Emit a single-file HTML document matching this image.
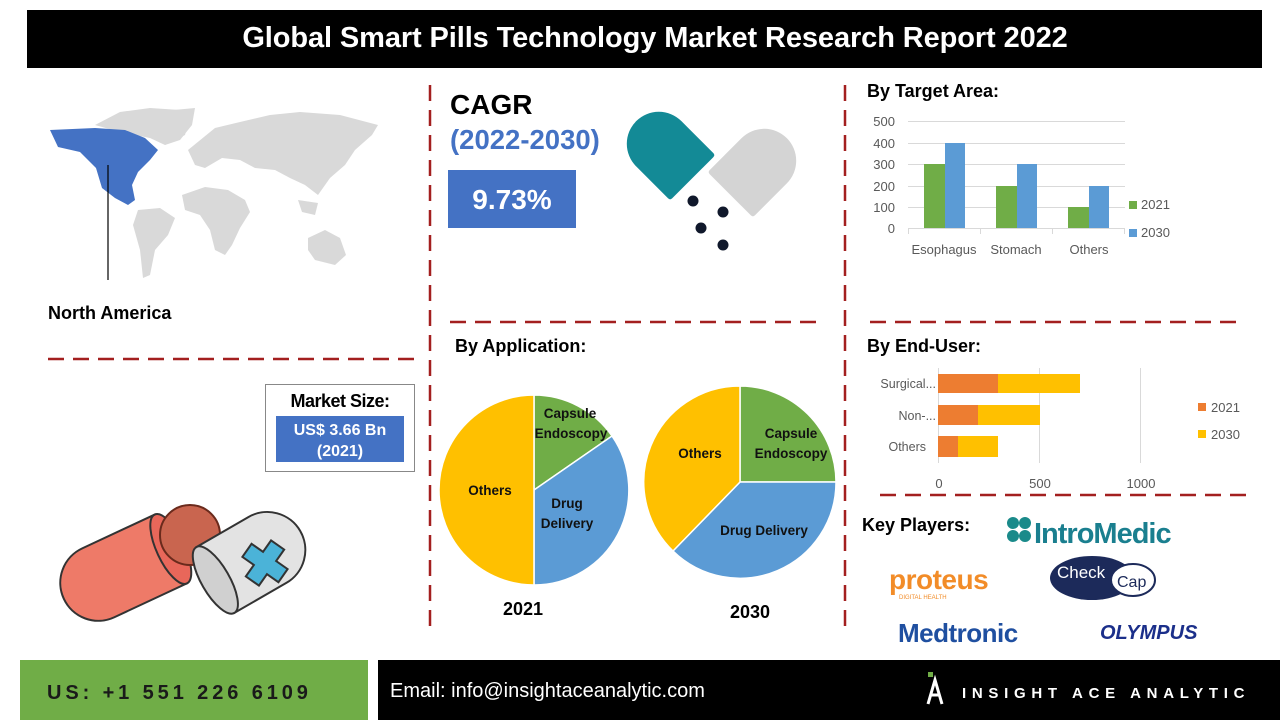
<!DOCTYPE html>
<html><head><meta charset="utf-8"><style>
html,body{margin:0;padding:0;background:#fff}
svg{display:block;font-family:"Liberation Sans",sans-serif}
</style></head><body>
<svg width="1280" height="720" viewBox="0 0 1280 720" xmlns="http://www.w3.org/2000/svg">
<rect width="1280" height="720" fill="#fff"/>
<rect x="27" y="10" width="1235" height="58" fill="#000"/>
<text x="655" y="47" fill="#fff" font-size="29" font-weight="bold" text-anchor="middle" letter-spacing="-0.1">Global Smart Pills Technology Market Research Report 2022</text>
<g stroke="#a31f1f" stroke-width="2.5" stroke-dasharray="16,9" fill="none">
<line x1="430" y1="85" x2="430" y2="628"/>
<line x1="845" y1="85" x2="845" y2="628"/>
<line x1="48" y1="359" x2="415" y2="359"/>
<line x1="450" y1="322" x2="816" y2="322"/>
<line x1="870" y1="322" x2="1236" y2="322"/>
<line x1="880" y1="495" x2="1248" y2="495"/>
</g>
<g fill="#d9d9d9">
<path d="M95,125 L120,112 L150,108 L180,110 L190,115 L185,135 L165,145 L150,138 L120,132 Z"/>
<path d="M152,112 L195,108 L192,125 L180,140 L165,145 Z"/>
<path d="M188,150 L215,128 L240,122 L270,115 L300,112 L340,115 L378,125 L372,135 L355,150 L345,165 L330,178 L318,195 L305,185 L290,178 L275,170 L255,168 L240,160 L222,158 L205,168 L195,165 Z"/>
<path d="M182,195 L205,187 L228,190 L245,200 L250,212 L240,228 L232,245 L225,255 L215,250 L210,230 L200,215 L185,210 Z"/>
<path d="M138,210 L160,208 L175,218 L168,235 L155,250 L150,275 L143,278 L140,250 L133,225 Z"/>
<path d="M308,238 L325,230 L340,238 L346,255 L335,265 L315,260 L308,250 Z"/>
<path d="M298,200 L318,203 L315,215 L302,212Z"/>
</g>
<path d="M50,130 L95,128 L125,130 L145,138 L158,150 L150,160 L138,172 L132,185 L135,200 L128,205 L115,198 L102,188 L96,168 L80,152 L58,147 Z" fill="#4472c4"/>
<line x1="108" y1="165" x2="108" y2="280" stroke="#000" stroke-width="1.2"/>
<text x="48" y="319" font-size="18" font-weight="bold">North America</text>
<rect x="265.5" y="384.5" width="149" height="87" fill="#fff" stroke="#888"/>
<text x="340" y="407" font-size="18" font-weight="bold" text-anchor="middle" letter-spacing="-0.5">Market Size:</text>
<rect x="276" y="416" width="128" height="46" fill="#4472c4"/>
<text x="340" y="435" font-size="16" font-weight="bold" fill="#fff" text-anchor="middle">US$ 3.66 Bn</text>
<text x="340" y="456" font-size="16" font-weight="bold" fill="#fff" text-anchor="middle">(2021)</text>
<g stroke="#333" stroke-width="2">
<g transform="rotate(-25 130 568)">
<path d="M175,530 L95,530 A38,38 0 0,0 95,606 L175,606 Z" fill="#ee7a68"/>
<ellipse cx="175" cy="568" rx="14" ry="38" fill="#e8675a"/>
</g>
<circle cx="190" cy="535" r="30" fill="#c9654f" stroke="#6a2a1c"/>
<g transform="rotate(-30 250 560)">
<path d="M210,522 L270,522 A38,38 0 0,1 270,598 L210,598 Z" fill="#e3e3e3"/>
<ellipse cx="210" cy="560" rx="14" ry="38" fill="#d0d0d0"/>
</g>
<path d="M243,555 h14 v-14 h16 v14 h14 v16 h-14 v14 h-16 v-14 h-14 Z" fill="#4bb3d8" transform="rotate(35 265 563)"/>
</g>
<text x="450" y="114" font-size="28" font-weight="bold">CAGR</text>
<text x="450" y="149" font-size="27.5" font-weight="bold" fill="#4472c4">(2022-2030)</text>
<rect x="448" y="170" width="128" height="58" fill="#4472c4"/>
<text x="512" y="209" font-size="28" font-weight="bold" fill="#fff" text-anchor="middle">9.73%</text>
<g transform="rotate(-45 668 153)"><path d="M636,185 L636,140 A32,32 0 0,1 700,140 L700,185 Q700,188 697,188 L639,188 Q636,188 636,185 Z" fill="#138a96"/></g>
<g transform="rotate(45 755 170)"><path d="M723,202 L723,157 A32,32 0 0,1 787,157 L787,202 Q787,205 784,205 L726,205 Q723,205 723,202 Z" fill="#d4d4d4"/></g>
<g fill="#10182b"><circle cx="693" cy="201" r="5.5"/><circle cx="723" cy="212" r="5.5"/><circle cx="701" cy="228" r="5.5"/><circle cx="723" cy="245" r="5.5"/></g>
<text x="455" y="352" font-size="18" font-weight="bold">By Application:</text>
<g stroke="#fff" stroke-width="1.5">
<path d="M534,490 L534,395 A95,95 0 0,1 612,436 Z" fill="#70ad47"/>
<path d="M534,490 L612,436 A95,95 0 0,1 534,585 Z" fill="#5b9bd5"/>
<path d="M534,490 L534,585 A95,95 0 0,1 534,395 Z" fill="#ffc000"/>
<path d="M740,482 L740,386 A96,96 0 0,1 836,482 Z" fill="#70ad47"/>
<path d="M740,482 L836,482 A96,96 0 0,1 673,551 Z" fill="#5b9bd5"/>
<path d="M740,482 L673,551 A96,96 0 0,1 740,386 Z" fill="#ffc000"/>
</g>
<g font-size="13.5" font-weight="bold" text-anchor="middle" fill="#111">
<text x="570" y="418">Capsule</text><text x="571" y="438">Endoscopy</text>
<text x="567" y="508">Drug</text><text x="567" y="528">Delivery</text>
<text x="490" y="495">Others</text>
<text x="791" y="438">Capsule</text><text x="791" y="458">Endoscopy</text>
<text x="764" y="535">Drug Delivery</text>
<text x="700" y="458">Others</text>
</g>
<text x="523" y="615" font-size="18" font-weight="bold" text-anchor="middle">2021</text>
<text x="750" y="618" font-size="18" font-weight="bold" text-anchor="middle">2030</text>
<text x="867" y="97" font-size="18" font-weight="bold">By Target Area:</text>
<g stroke="#d9d9d9" stroke-width="1">
<line x1="908" y1="121.5" x2="1125" y2="121.5"/><line x1="908" y1="143.5" x2="1125" y2="143.5"/>
<line x1="908" y1="164.5" x2="1125" y2="164.5"/><line x1="908" y1="186.5" x2="1125" y2="186.5"/>
<line x1="908" y1="207.5" x2="1125" y2="207.5"/><line x1="908" y1="228.5" x2="1125" y2="228.5"/>
<line x1="908.5" y1="228" x2="908.5" y2="234"/><line x1="980.5" y1="228" x2="980.5" y2="234"/><line x1="1052.5" y1="228" x2="1052.5" y2="234"/><line x1="1124.5" y1="228" x2="1124.5" y2="234"/>
</g>
<g fill="#70ad47"><rect x="924" y="164" width="21" height="64"/><rect x="996" y="186" width="21" height="42"/><rect x="1068" y="207" width="21" height="21"/></g>
<g fill="#5b9bd5"><rect x="945" y="143" width="20" height="85"/><rect x="1017" y="164" width="20" height="64"/><rect x="1089" y="186" width="20" height="42"/></g>
<g font-size="13" fill="#595959">
<g text-anchor="end"><text x="895" y="126">500</text><text x="895" y="148">400</text><text x="895" y="169">300</text><text x="895" y="191">200</text><text x="895" y="212">100</text><text x="895" y="233">0</text></g>
<text x="944" y="254" text-anchor="middle">Esophagus</text><text x="1016" y="254" text-anchor="middle">Stomach</text><text x="1089" y="254" text-anchor="middle">Others</text>
<rect x="1129" y="201" width="8" height="8" fill="#70ad47"/><text x="1141" y="209">2021</text>
<rect x="1129" y="229" width="8" height="8" fill="#5b9bd5"/><text x="1141" y="237">2030</text>
</g>
<text x="867" y="352" font-size="18" font-weight="bold">By End-User:</text>
<g stroke="#d9d9d9"><line x1="938.5" y1="368" x2="938.5" y2="463"/><line x1="1039.5" y1="368" x2="1039.5" y2="463"/><line x1="1140.5" y1="368" x2="1140.5" y2="463"/></g>
<g fill="#ed7d31"><rect x="938" y="374" width="60" height="19"/><rect x="938" y="405" width="40" height="20"/><rect x="938" y="436" width="20" height="21"/></g>
<g fill="#ffc000"><rect x="998" y="374" width="82" height="19"/><rect x="978" y="405" width="62" height="20"/><rect x="958" y="436" width="40" height="21"/></g>
<g font-size="12.5" fill="#595959">
<g text-anchor="end"><text x="936" y="388">Surgical...</text><text x="936" y="420">Non-...</text><text x="926" y="451">Others</text></g>
<g text-anchor="middle" font-size="13"><text x="939" y="488">0</text><text x="1040" y="488">500</text><text x="1141" y="488">1000</text></g>
<rect x="1198" y="403" width="8" height="8" fill="#ed7d31"/><text x="1211" y="412" font-size="13">2021</text>
<rect x="1198" y="430" width="8" height="8" fill="#ffc000"/><text x="1211" y="439" font-size="13">2030</text>
</g>
<text x="862" y="531" font-size="18" font-weight="bold">Key Players:</text>
<g fill="#1a8a8a"><circle cx="1013" cy="523" r="6"/><circle cx="1025" cy="523" r="6"/><circle cx="1013" cy="536" r="6"/><circle cx="1025" cy="536" r="6"/></g>
<text x="1034" y="543" font-size="29" font-weight="bold" fill="#1a7f8f" letter-spacing="-1">IntroMedic</text>
<text x="889" y="589" font-size="28" font-weight="bold" fill="#f28c28" letter-spacing="-0.5">proteus</text>
<text x="899" y="599" font-size="6" fill="#f28c28">DIGITAL HEALTH</text>
<ellipse cx="1092" cy="578" rx="42" ry="22" fill="#1c2a5a"/>
<ellipse cx="1133" cy="580" rx="22" ry="16" fill="#fff" stroke="#1c2a5a" stroke-width="2"/>
<text x="1057" y="578" font-size="17" fill="#fff">Check</text>
<text x="1117" y="587" font-size="16" fill="#1c2a5a">Cap</text>
<text x="898" y="642" font-size="26" font-weight="bold" fill="#1f4fa0" letter-spacing="-0.5">Medtronic</text>
<text x="1100" y="639" font-size="20" font-weight="bold" fill="#1b2f8a" font-style="italic">OLYMPUS</text>
<rect x="20" y="660" width="348" height="60" fill="#70ad47"/>
<text x="47" y="699" font-size="20" font-weight="bold" fill="#1a1a1a" letter-spacing="3.9">US: +1 551 226 6109</text>
<rect x="378" y="660" width="902" height="60" fill="#000"/>
<text x="390" y="697" font-size="20" fill="#fff">Email: info@insightaceanalytic.com</text>
<path d="M928,704 L935,680 L942,704 M931,695 L939,695" stroke="#fff" stroke-width="3" fill="none"/>
<rect x="928" y="672" width="5" height="5" fill="#70ad47"/>
<text x="962" y="698" font-size="15" font-weight="bold" fill="#fff" letter-spacing="5.7">INSIGHT ACE ANALYTIC</text>
</svg>
</body></html>
